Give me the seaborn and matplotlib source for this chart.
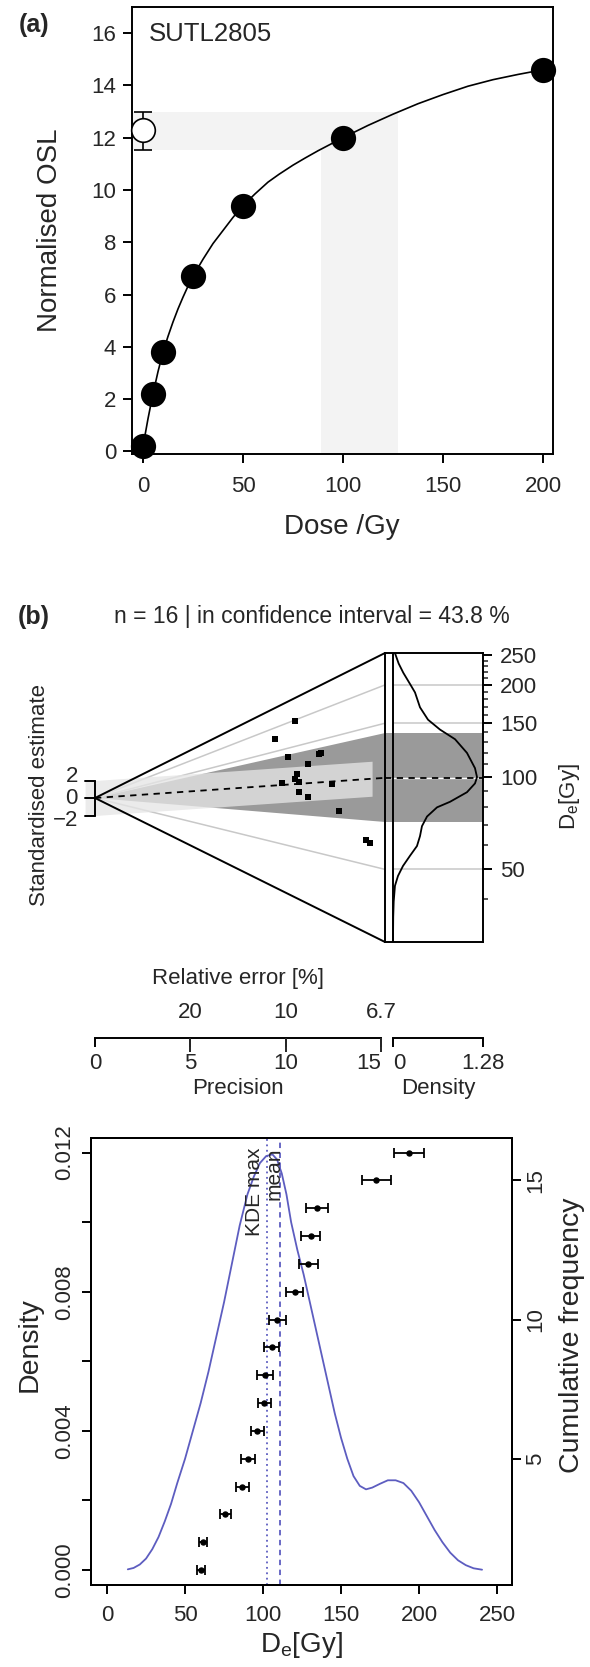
import matplotlib
matplotlib.use("Agg")
import matplotlib.pyplot as plt
import numpy as np
import seaborn as sns

# ---------------- data ----------------
# (a) dose response curve of SUTL2805
dose = [0, 5, 10, 25, 50, 100, 200]
norm_osl = [0.2, 2.2, 3.8, 6.7, 9.4, 12.0, 14.6]
fit_dose = [0, 1.25, 2.5, 3.75, 5, 7.5, 10, 12.5, 15, 17.5, 20, 22.5, 25, 30,
            35, 40, 45, 50, 56, 62.5, 68, 75, 81, 87.5, 94, 100, 112.5, 125,
            137.5, 150, 162.5, 175, 187.5, 200]
fit_osl = [0.2, 0.72, 1.25, 1.73, 2.2, 3.05, 3.8, 4.4, 4.95, 5.45, 5.9, 6.32,
           6.7, 7.35, 7.95, 8.45, 8.95, 9.4, 9.85, 10.3, 10.6, 10.95, 11.22,
           11.5, 11.76, 12.0, 12.47, 12.9, 13.3, 13.65, 13.97, 14.22, 14.42,
           14.6]
natural_osl = 12.3
natural_osl_range = [11.54, 13.0]
natural_de_range = [88.9, 127.6]

# (b) radial plot: precision and standardised estimate of each aliquot
rad_precision = [10.49, 9.43, 10.14, 11.74, 11.86, 11.18, 10.61, 10.49,
                 10.69, 9.79, 12.45, 10.69, 11.18, 12.78, 14.22, 14.43]
rad_std_est = [8.8, 6.78, 4.69, 5.07, 5.18, 3.92, 2.74, 2.2,
               1.87, 1.71, 1.64, 0.65, 0.15, -1.49, -4.84, -5.18]
ref_de = 85.5          # De at standardised estimate 0
central_de = 99.5
band_de = [71.4, 139.3]
grid_de = [50, 150, 200]
kde_b_de = [254, 235, 219, 200, 189, 169, 154, 143, 133, 120, 107, 100, 95.4,
            89.3, 83.1, 79.7, 74.4, 69.2, 64.2, 59.6, 55.4, 51.3, 47.6, 44.2,
            39.3, 34.9, 29]
kde_b_density = [0.028, 0.08, 0.147, 0.25, 0.313, 0.384, 0.498, 0.668, 0.882,
                 1.052, 1.166, 1.195, 1.166, 1.052, 0.811, 0.626, 0.484, 0.412,
                 0.384, 0.341, 0.242, 0.142, 0.071, 0.028, 0.01, 0.003, 0.0]

# (c) KDE and cumulative De distribution
de_gy = [60.3, 61.5, 75.9, 86.8, 90.4, 96.4, 100.8, 101.3, 105.5, 109.0,
         120.2, 129.0, 130.5, 134.5, 172.6, 193.6]
de_err = [2.4, 2.4, 3.3, 4.0, 4.7, 4.2, 4.3, 5.3, 4.7, 5.4, 5.5, 6.0, 5.9,
          7.0, 9.3, 9.6]
cum_freq = [1, 2, 3, 4, 5, 6, 7, 8, 9, 10, 11, 12, 13, 14, 15, 16]
kde_c_de = [13.3, 17, 21, 25, 29, 33, 37, 41, 45, 50, 55, 60, 65, 70, 75, 80,
            85, 90, 94, 98, 102, 106, 109, 112, 115, 118, 122, 126, 130, 134,
            138, 142, 146, 150, 154, 158, 162, 166, 170, 175, 180, 185, 190,
            195, 200, 205, 210, 215, 220, 225, 230, 235, 240.4]
kde_c_density = [0.00002, 0.00006, 0.00016, 0.00033, 0.0006, 0.00095, 0.0014,
                 0.0019, 0.0025, 0.0032, 0.0040, 0.0048, 0.0057, 0.0067,
                 0.0077, 0.0088, 0.0099, 0.0108, 0.0113, 0.0117, 0.0119,
                 0.01195, 0.0118, 0.0114, 0.0108, 0.0100, 0.0092, 0.0085,
                 0.0077, 0.0069, 0.0061, 0.0053, 0.0045, 0.0038, 0.0032,
                 0.0027, 0.00242, 0.00232, 0.00237, 0.00248, 0.00258,
                 0.00258, 0.0025, 0.00228, 0.00195, 0.00155, 0.00115, 0.0008,
                 0.0005, 0.00028, 0.00014, 0.00005, 0.00001]
kde_max_de = 102.6
mean_de = 110.9

# ---------------- style ----------------
sns.set_style("ticks")
plt.rcParams['font.family'] = ['Liberation Sans', 'DejaVu Sans']
plt.rcParams['mathtext.fontset'] = 'custom'
plt.rcParams['mathtext.rm'] = 'Liberation Sans'
plt.rcParams['axes.linewidth'] = 1.4
plt.rcParams['axes.edgecolor'] = 'black'

SHADE = '#f3f3f3'
DARK = '#9a9a9a'
GRID = '#c8c8c8'
BLUE = '#5d5dc0'
TICK = 16

W, H = 590, 1667
fig = plt.figure(figsize=(W / 100, H / 100), dpi=100)


def box(l, t, r, b):
    return [l / W, 1 - b / H, (r - l) / W, (b - t) / H]


def label(x, y, s, **kw):
    kw.setdefault('ha', 'center')
    kw.setdefault('va', 'center')
    fig.text(x / W, 1 - y / H, s, **kw)


def r_ticks(ax, **kw):
    ax.tick_params(direction='out', length=6.5, width=1.4, color='black',
                   labelsize=TICK, **kw)


# ---------------- (a) ----------------
ax_a = fig.add_axes(box(132, 7, 553, 454))
ax_a.set_xlim(-5.5, 205)
ax_a.set_ylim(-0.1, 17.0)
x0, y0 = ax_a.get_xlim()[0], ax_a.get_ylim()[0]
ax_a.fill_between([x0, natural_de_range[1]], natural_osl_range[0],
                  natural_osl_range[1], color=SHADE, lw=0, zorder=0)
ax_a.fill_between(natural_de_range, y0, natural_osl_range[0],
                  color=SHADE, lw=0, zorder=0)
sns.lineplot(x=fit_dose, y=fit_osl, ax=ax_a, color='black', lw=1.2,
             sort=False, estimator=None)
sns.scatterplot(x=dose, y=norm_osl, ax=ax_a, s=330, color='black',
                linewidth=0, zorder=3, clip_on=False)
ax_a.errorbar([0], [natural_osl],
              yerr=[[natural_osl - natural_osl_range[0]],
                    [natural_osl_range[1] - natural_osl]],
              fmt='o', ms=17, mfc='white', mec='black', mew=1.2,
              ecolor='black', elinewidth=1.2, capsize=6.5, capthick=1.2,
              zorder=4, clip_on=False)
ax_a.set_xticks([0, 50, 100, 150, 200])
ax_a.set_yticks(range(0, 17, 2))
r_ticks(ax_a)
ax_a.tick_params(axis='x', pad=9)
ax_a.tick_params(axis='y', pad=5)
ax_a.text(0.04, 0.94, 'SUTL2805', transform=ax_a.transAxes, fontsize=18.5,
          ha='left', va='center')
label(50, 230, 'Normalised OSL', fontsize=20, rotation=90)
label(342, 527, 'Dose /Gy', fontsize=20)
label(34, 25, '(a)', fontsize=18, fontweight='bold')

# ---------------- (b) radial plot ----------------
ORIGIN_PX, PREC_PX = 95, 19.07      # precision scale in pixels
ARC_X = (385 - ORIGIN_PX) / PREC_PX
STD_PX = 8.75
Y_TOP, Y_BOT = (798 - 653) / STD_PX, (798 - 942) / STD_PX

ax_r = fig.add_axes(box(80, 653, 385, 942))
ax_r.set_xlim(-(ORIGIN_PX - 80) / PREC_PX, ARC_X)
ax_r.set_ylim(Y_BOT, Y_TOP)
ax_r.axis('off')

slope_c = np.log(central_de / ref_de)
band_x = [-0.52, 14.53]
ax_r.fill_between(band_x, [slope_c * x - 2 for x in band_x],
                  [slope_c * x + 2 for x in band_x],
                  color='#e5e5e5', alpha=0.77, lw=0, zorder=2)
ax_r.fill([0, ARC_X, ARC_X],
          [0, ARC_X * np.log(band_de[1] / ref_de),
           ARC_X * np.log(band_de[0] / ref_de)],
          color=DARK, lw=0, zorder=1)
for d in grid_de:
    ax_r.plot([0, ARC_X], [0, ARC_X * np.log(d / ref_de)], color=GRID,
              lw=1.1, zorder=1.5)
ax_r.plot([0, ARC_X], [0, Y_TOP], color='black', lw=1.4, clip_on=False)
ax_r.plot([0, ARC_X], [0, Y_BOT], color='black', lw=1.4, clip_on=False)
ax_r.plot([0, ARC_X], [0, ARC_X * slope_c], color='black', lw=1.3,
          dashes=(3.5, 3), zorder=4)
sns.scatterplot(x=rad_precision, y=rad_std_est, ax=ax_r, marker='s', s=22,
                color='black', linewidth=0, zorder=5)
# standardised estimate bracket axis
ax_r.plot([0, 0], [-2, 2], color='black', lw=1.4, clip_on=False)
for yv in (-2, 0, 2):
    ax_r.plot([-0.52, 0], [yv, yv], color='black', lw=1.4, clip_on=False)
for txt, ypx in (('2', 776), ('0', 798), ('\u22122', 820)):
    label(78, ypx, txt, fontsize=TICK, ha='right')
label(40, 795, 'Standardised estimate', fontsize=16, rotation=90)

# KDE side panel
DENS_PX = 90 / 1.28
ax_k = fig.add_axes(box(385, 653, 483, 942))
ax_k.set_yscale('log')
ax_k.set_xlim(-8 / DENS_PX, 1.28)
ax_k.set_ylim(ref_de * np.exp(Y_BOT / ARC_X), ref_de * np.exp(Y_TOP / ARC_X))
ax_k.axhspan(band_de[0], band_de[1], color=DARK, lw=0, zorder=0)
for d in grid_de:
    ax_k.plot([0, 1.28], [d, d], color=GRID, lw=1.1, zorder=1)
ax_k.axvline(0, color='black', lw=1.4, zorder=3)
ax_k.plot([-8 / DENS_PX, 1.28], [central_de, central_de], color='white',
          lw=1.0, zorder=2)
ax_k.plot([-8 / DENS_PX, 1.28], [central_de, central_de], color='black',
          lw=1.3, dashes=(3.5, 3), zorder=2.5)
sns.lineplot(x=kde_b_density, y=kde_b_de, ax=ax_k, color='black', lw=1.3,
             sort=False, estimator=None, zorder=4)
ax_k.set_xticks([])
ax_k.yaxis.tick_right()
ax_k.set_yticks([50, 100, 150, 200, 250])
ax_k.set_yticklabels(['50', '100', '150', '200', '250'])
ax_k.set_yticks([40, 60, 70, 80, 90, 110, 120, 130, 140, 160, 170, 180, 190,
                 210, 220, 230, 240], minor=True)
ax_k.yaxis.set_minor_formatter(plt.NullFormatter())
r_ticks(ax_k, axis='y', which='major', pad=6)
ax_k.tick_params(axis='y', which='minor', direction='out', length=3.5,
                 width=1.1)
ax_k.set_xlabel('')
ax_k.set_ylabel('')
label(570, 797, r'D$_\mathrm{e}$[Gy]', fontsize=16, rotation=90)

label(34, 617, '(b)', fontsize=18, fontweight='bold')
label(312, 617, 'n = 16 | in confidence interval = 43.8 %', fontsize=16.5)

# precision / relative error axis
ax_p = fig.add_axes(box(ORIGIN_PX, 1030, 381, 1038))
ax_p.set_xlim(0, 15)
ax_p.set_ylim(0, 1)
for s in ('top', 'left', 'right'):
    ax_p.spines[s].set_visible(False)
ax_p.set_yticks([])
ax_p.set_xticks([0, 5, 10, 15])
r_ticks(ax_p, axis='x', pad=4)
ax_p.get_xticklabels()[-1].set_horizontalalignment('right')
ax_p.patch.set_alpha(0)

ax_re = fig.add_axes(box(ORIGIN_PX, 1038, 381, 1046))
ax_re.set_xlim(0, 15)
for s in ('bottom', 'left', 'right', 'top'):
    ax_re.spines[s].set_visible(False)
ax_re.set_yticks([])
ax_re.xaxis.tick_top()
ax_re.set_xticks([5, 10, 15])
ax_re.set_xticklabels(['20', '10', '6.7'])
ax_re.tick_params(axis='x', direction='in', length=10, width=1.4,
                  labelsize=TICK, pad=11)
ax_re.patch.set_alpha(0)

ax_d = fig.add_axes(box(393, 1030, 483, 1038))
ax_d.set_xlim(0, 1.28)
for s in ('top', 'left', 'right'):
    ax_d.spines[s].set_visible(False)
ax_d.set_yticks([])
ax_d.set_xticks([0, 1.28])
ax_d.set_xticklabels(['0', '1.28'])
r_ticks(ax_d, axis='x', pad=4)
ax_d.get_xticklabels()[0].set_horizontalalignment('left')
ax_d.patch.set_alpha(0)

label(238, 978, 'Relative error [%]', fontsize=16)
label(238, 1088, 'Precision', fontsize=16)
label(438, 1088, 'Density', fontsize=16)

# ---------------- (c) KDE + cumulative frequency ----------------
ax_c = fig.add_axes(box(91, 1138, 512, 1585))
ax_c.set_xlim(-10.3, 259.6)
ax_c.set_ylim(-0.00043, 0.01242)
sns.lineplot(x=kde_c_de, y=kde_c_density, ax=ax_c, color=BLUE, lw=1.3,
             sort=False, estimator=None)
ax_c.axvline(kde_max_de, color=BLUE, lw=1.3, ls=(0, (1, 2)))
ax_c.axvline(mean_de, color=BLUE, lw=1.3, ls=(0, (3, 2.5)))
ax_c.text(kde_max_de - 8.4, 0.01214, 'KDE max', rotation=90, ha='center',
          va='top', fontsize=15)
ax_c.text(mean_de - 4.0, 0.01214, 'mean', rotation=90, ha='center',
          va='top', fontsize=15)
ax_c.set_xticks([0, 50, 100, 150, 200, 250])
yt = [0, 0.002, 0.004, 0.006, 0.008, 0.010, 0.012]
ax_c.set_yticks(yt)
ax_c.set_yticklabels(['0.000', '', '0.004', '', '0.008', '', '0.012'],
                     rotation=90, va='center')
r_ticks(ax_c)
ax_c.tick_params(axis='x', pad=8)
ax_c.tick_params(axis='y', pad=5)
ax_c.set_xlabel('')
ax_c.set_ylabel('')

ax_cf = ax_c.twinx()
ax_cf.set_ylim(0.4625, 16.525)
ax_cf.errorbar(de_gy, cum_freq, xerr=de_err, fmt='o', ms=3.6, color='black',
               ecolor='black', elinewidth=1.3, capsize=3.5, capthick=1.3)
ax_cf.set_yticks([5, 10, 15])
ax_cf.set_yticklabels(['5', '10', '15'], rotation=90, va='center')
r_ticks(ax_cf, pad=3)
for s in ax_cf.spines.values():
    s.set_linewidth(1.4)

label(30, 1345, 'Density', fontsize=20.5, rotation=90)
label(572, 1335, 'Cumulative frequency', fontsize=20.5, rotation=90)
label(301, 1645, r'D$_\mathrm{e}$[Gy]', fontsize=20)

fig.savefig('out.png', dpi=100)
